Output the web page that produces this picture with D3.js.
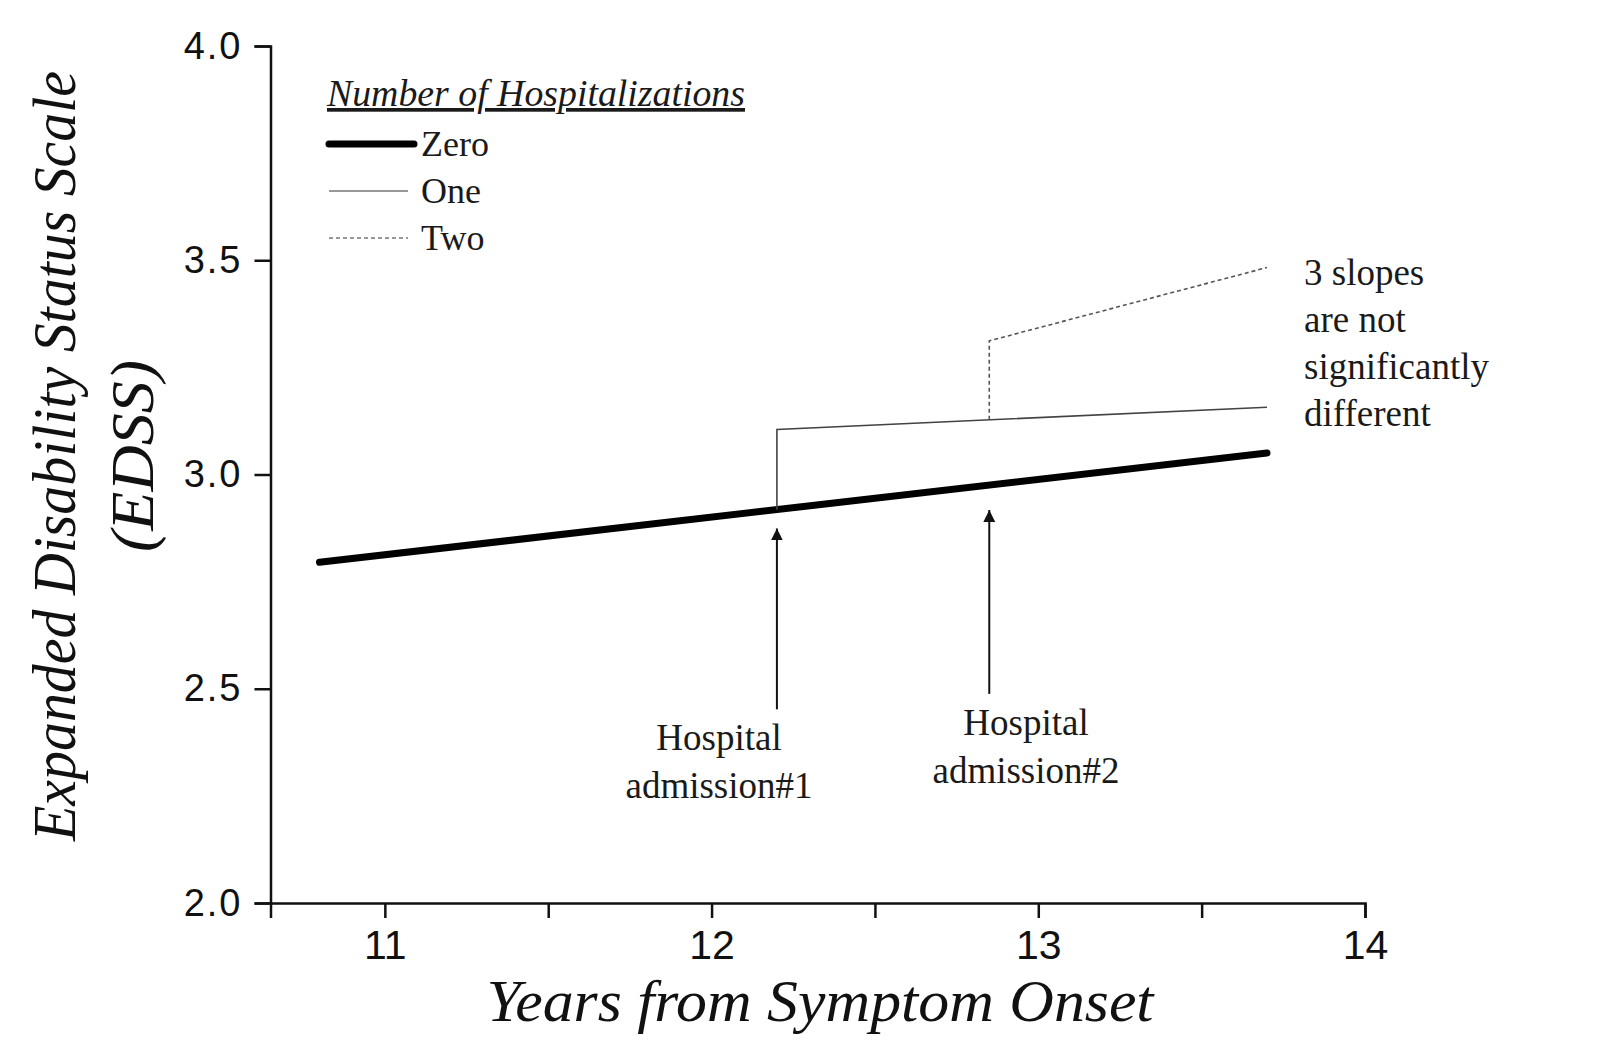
<!DOCTYPE html>
<html>
<head>
<meta charset="utf-8">
<script src="https://cdn.jsdelivr.net/npm/d3@7"></script>
<style>
  html, body { margin: 0; padding: 0; background: #fff; }
  svg { display: block; }
</style>
</head>
<body>
<svg id="chart" width="1600" height="1059"></svg>
<script>
// ---- data ----
const xTicks = [11, 12, 13, 14];
const xMinorTicks = [11.5, 12.5, 13.5];
const yTicks = [2.0, 2.5, 3.0, 3.5, 4.0];
const seriesNames = ["Zero", "One", "Two"];
const zeroX = [10.8, 13.7];
const zeroY = [2.795, 3.05];
const oneX = [12.2, 12.2, 13.7];
const oneY = [2.918, 3.105, 3.157];
const twoX = [12.85, 12.85, 13.7];
const twoY = [3.128, 3.312, 3.483];
const arrowX = [12.2, 12.85];
const arrowFromY = [2.452, 2.488];
const arrowToY = [2.874, 2.917];
const admissionLabels = [["Hospital", "admission#1"], ["Hospital", "admission#2"]];
const slopeNote = ["3 slopes", "are not", "significantly", "different"];
const legendTitle = "Number of Hospitalizations";
const xTitle = "Years from Symptom Onset";
const yTitle = ["Expanded Disability Status Scale", "(EDSS)"];

// ---- layout ----
const svg = d3.select("#chart");
const x = d3.scaleLinear().domain([10.65, 14]).range([270.5, 1365]);
const y = d3.scaleLinear().domain([2, 4]).range([903, 46]);
const serif = "'Liberation Serif', 'Times New Roman', serif";
const sans = "'Liberation Sans', Arial, sans-serif";

// axes
const xAxis = svg.append("g").attr("transform", `translate(0,${y(2)})`)
  .call(d3.axisBottom(x).tickValues(xTicks).tickFormat(d3.format("d")).tickSize(15).tickPadding(12));
const xMinor = svg.append("g").attr("transform", `translate(0,${y(2)})`)
  .call(d3.axisBottom(x).tickValues(xMinorTicks).tickFormat("").tickSize(15));
xMinor.select(".domain").remove();
const yAxis = svg.append("g").attr("transform", `translate(${x(10.65)},0)`)
  .call(d3.axisLeft(y).tickValues(yTicks).tickFormat(d3.format(".1f")).tickSize(16).tickPadding(12));

[xAxis, xMinor, yAxis].forEach(g => {
  g.selectAll(".domain").attr("stroke", "#111").attr("stroke-width", 2.5);
  g.selectAll(".tick line").attr("stroke", "#111").attr("stroke-width", 2.5);
});
xAxis.selectAll(".tick text").attr("font-family", sans).attr("font-size", 41).attr("fill", "#111");
yAxis.selectAll(".tick text").attr("font-family", sans).attr("font-size", 38).attr("fill", "#111")
  .attr("letter-spacing", 2);

// series lines
const line = d3.line().x(d => x(d[0])).y(d => y(d[1]));
const zipPts = (xs, ys) => xs.map((v, i) => [v, ys[i]]);

svg.append("path").datum(zipPts(zeroX, zeroY)).attr("d", line)
  .attr("fill", "none").attr("stroke", "#000").attr("stroke-width", 7).attr("stroke-linecap", "round");
svg.append("path").datum(zipPts(oneX, oneY)).attr("d", line)
  .attr("fill", "none").attr("stroke", "#444").attr("stroke-width", 1.6);
svg.append("path").datum(zipPts(twoX, twoY)).attr("d", line)
  .attr("fill", "none").attr("stroke", "#555").attr("stroke-width", 1.6).attr("stroke-dasharray", "4,3");

// arrows
svg.append("defs").append("marker")
  .attr("id", "arrowhead").attr("viewBox", "0 0 10 10").attr("refX", 10).attr("refY", 5)
  .attr("markerWidth", 6).attr("markerHeight", 8).attr("markerUnits", "strokeWidth")
  .attr("orient", "auto")
  .append("path").attr("d", "M0,0 L10,5 L0,10 Z").attr("fill", "#111");

arrowX.forEach((ax, i) => {
  svg.append("line")
    .attr("x1", x(ax)).attr("x2", x(ax))
    .attr("y1", y(arrowFromY[i])).attr("y2", y(arrowToY[i]))
    .attr("stroke", "#111").attr("stroke-width", 2)
    .attr("marker-end", "url(#arrowhead)");
});

// admission labels
const admPos = [{cx: 719, by: 750}, {cx: 1026, by: 735}];
admissionLabels.forEach((lines, i) => {
  const t = svg.append("text").attr("font-family", serif).attr("font-size", 37)
    .attr("fill", "#1a1a1a").attr("text-anchor", "middle");
  lines.forEach((s, j) => {
    t.append("tspan").attr("x", admPos[i].cx).attr("y", admPos[i].by + j * 48).text(s);
  });
});

// slope note
const note = svg.append("text").attr("font-family", serif).attr("font-size", 37).attr("fill", "#1a1a1a");
slopeNote.forEach((s, j) => {
  note.append("tspan").attr("x", 1304).attr("y", 285 + j * 47).text(s);
});

// legend
svg.append("text").attr("x", 327).attr("y", 106).attr("font-family", serif)
  .attr("font-style", "italic").attr("font-size", 37).attr("fill", "#1a1a1a")
  .attr("text-decoration", "underline")
  .attr("textLength", 418).attr("lengthAdjust", "spacingAndGlyphs").text(legendTitle);
const legendStyles = [
  {w: 7, c: "#000", dash: null, x2: 414, cap: "round"},
  {w: 1.6, c: "#777", dash: null, x2: 408, cap: "butt"},
  {w: 1.6, c: "#777", dash: "4,3", x2: 408, cap: "butt"}
];
seriesNames.forEach((name, i) => {
  const ly = 144 + i * 47;
  const st = legendStyles[i];
  svg.append("line").attr("x1", 329).attr("x2", st.x2).attr("y1", ly).attr("y2", ly)
    .attr("stroke", st.c).attr("stroke-width", st.w).attr("stroke-linecap", st.cap)
    .attr("stroke-dasharray", st.dash);
  svg.append("text").attr("x", 421).attr("y", ly + 12).attr("font-family", serif)
    .attr("font-size", 36).attr("fill", "#1a1a1a").text(name);
});

// axis titles
svg.append("text").attr("x", 820).attr("y", 1021).attr("text-anchor", "middle")
  .attr("font-family", serif).attr("font-style", "italic").attr("font-size", 59)
  .attr("fill", "#111").attr("textLength", 667).attr("lengthAdjust", "spacingAndGlyphs")
  .text(xTitle);

const yt = svg.append("text").attr("transform", "translate(0,456) rotate(-90)")
  .attr("text-anchor", "middle").attr("font-family", serif).attr("font-style", "italic")
  .attr("font-size", 62).attr("fill", "#111");
yt.append("tspan").attr("x", 0).attr("y", 75)
  .attr("textLength", 770).attr("lengthAdjust", "spacingAndGlyphs").text(yTitle[0]);
yt.append("tspan").attr("x", 0).attr("y", 153)
  .attr("textLength", 192).attr("lengthAdjust", "spacingAndGlyphs").text(yTitle[1]);
</script>
</body>
</html>
